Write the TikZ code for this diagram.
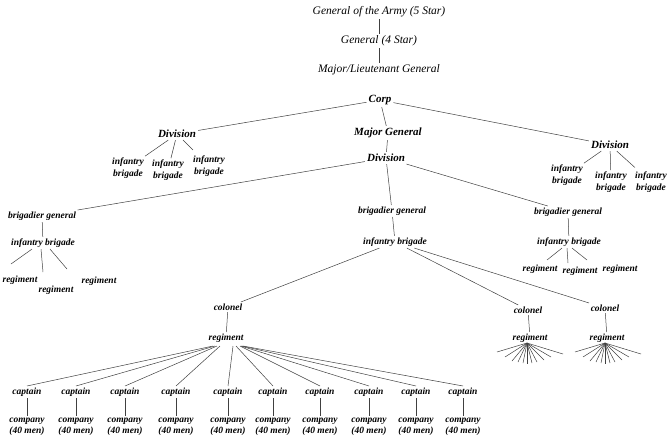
\documentclass[tikz,border=0pt]{standalone}
\usepackage{fontspec}
\setmainfont{Liberation Serif}
\newfontfamily\orgfont{Liberation Serif}
\usetikzlibrary{calc}
\begin{document}
\begin{tikzpicture}[x=1pt,y=-1pt,
   head/.style={font=\orgfont\fontsize{11.5}{13}\selectfont\itshape,inner sep=2pt},
   rank/.style={font=\orgfont\fontsize{11}{13}\selectfont\bfseries\itshape,inner sep=2pt},
   lbl/.style={font=\orgfont\fontsize{9.5}{11.5}\selectfont\bfseries\itshape,align=center,inner sep=1.5pt},
   ln/.style={draw=black!75,line width=0.5pt}]
   \useasboundingbox (0,0) rectangle (669,445);
   % top of the chain
   \node[head] (army) at (379,12) {General of the Army (5 Star)};
   \node[head] (gen) at (379,41) {General (4 Star)};
   \node[head] (mlg) at (379,70) {Major/Lieutenant General};
   \node[rank] (corp) at (380,100) {Corp};
   \draw[ln] (army) -- (gen) (gen) -- (mlg);
   % divisions
   \node[rank] (divL) at (177,134) {Division};
   \node[rank] (mg) at (388,133) {Major General};
   \node[rank] (divM) at (386,158) {Division};
   \node[rank] (divR) at (610,145) {Division};
   \draw[ln] (corp) -- (divL) (corp) -- (mg) (corp) -- (divR) (mg) -- (divM);
   \node[lbl] (ibL1) at (128,168) {infantry\\brigade};
   \node[lbl] (ibL2) at (168,170) {infantry\\brigade};
   \node[lbl] (ibL3) at (209,166) {infantry\\brigade};
   \node[lbl] (ibR1) at (567,175) {infantry\\brigade};
   \node[lbl] (ibR2) at (611,182) {infantry\\brigade};
   \node[lbl] (ibR3) at (651,182) {infantry\\brigade};
   \draw[ln,shorten >=6pt] (divL) -- (ibL1) (divL) -- (ibL2) (divL) -- (ibL3);
   \draw[ln,shorten >=4pt] (divR) -- (ibR1) (divR) -- (ibR2) (divR) -- (ibR3);
   % brigades
   \node[lbl] (bgA) at (42,216) {brigadier general};
   \node[lbl] (bgB) at (392,211) {brigadier general};
   \node[lbl] (bgC) at (568,212) {brigadier general};
   \node[lbl] (ibA) at (43,243) {infantry brigade};
   \node[lbl] (ibB) at (395,242) {infantry brigade};
   \node[lbl] (ibC) at (569,242) {infantry brigade};
   \draw[ln] (divM) -- (bgA) (divM) -- (bgB) (divM) -- (bgC);
   \draw[ln] (bgA) -- (ibA) (bgB) -- (ibB) (bgC) -- (ibC);
   \node[lbl] (rgA1) at (20,280) {regiment};
   \node[lbl] (rgA2) at (56,290) {regiment};
   \node[lbl] (rgA3) at (99,281) {regiment};
   \node[lbl] (rgC1) at (540,269) {regiment};
   \node[lbl] (rgC2) at (580,271) {regiment};
   \node[lbl] (rgC3) at (620,269) {regiment};
   \coordinate (eA1) at (11,264); \coordinate (eA2) at (43,272); \coordinate (eA3) at (67,269);
   \coordinate (eC1) at (547,260); \coordinate (eC2) at (568,263); \coordinate (eC3) at (587,260);
   \draw[ln] ($(ibA.south)+(-11,0)$) -- (eA1) ($(ibA.south)+(-2,0)$) -- (eA2) ($(ibA.south)+(7,0)$) -- (eA3);
   \draw[ln] ($(ibC.south)+(-7,0)$) -- (eC1) ($(ibC.south)+(-2,0)$) -- (eC2) ($(ibC.south)+(3,0)$) -- (eC3);
   % regiments
   \node[lbl] (colA) at (228,307) {colonel};
   \node[lbl] (colB) at (528,310) {colonel};
   \node[lbl] (colC) at (605,308) {colonel};
   \node[lbl] (regA) at (226,338) {regiment};
   \node[lbl] (regB) at (530,338) {regiment};
   \node[lbl] (regC) at (607,338) {regiment};
   \draw[ln] (ibB) -- (colA) (ibB) -- (colB) (ibB) -- (colC);
   \draw[ln] (colA) -- (regA) (colB) -- (regB) (colC) -- (regC);
   \coordinate (fanB) at (527,343);
   \coordinate (fanC) at (605,343);
   \foreach \dx/\dy in {-30/9,-22/14,-15/18,-9/19,-4/20,0/21,5/20,10/19,17/17,24/14,36/11}
     \draw[ln] (fanB) -- ++(\dx,\dy) (fanC) -- ++(\dx,\dy);
   % companies
   \foreach \i/\xx/\dx in {1/27/-13,2/76/-11,3/125/-9,4/176/-6,5/228/7,6/273/10,7/320/14,8/369/15,9/416/16,10/463/17} {
     \node[lbl] (cap\i) at (\xx,392) {captain};
     \node[lbl] (co\i) at (\xx,427) {company\\(40 men)};
     \draw[ln] (cap\i) -- (co\i);
     \draw[ln] ($(regA.south)+(\dx,2)$) -- (cap\i.north);
   }
\end{tikzpicture}
\end{document}
